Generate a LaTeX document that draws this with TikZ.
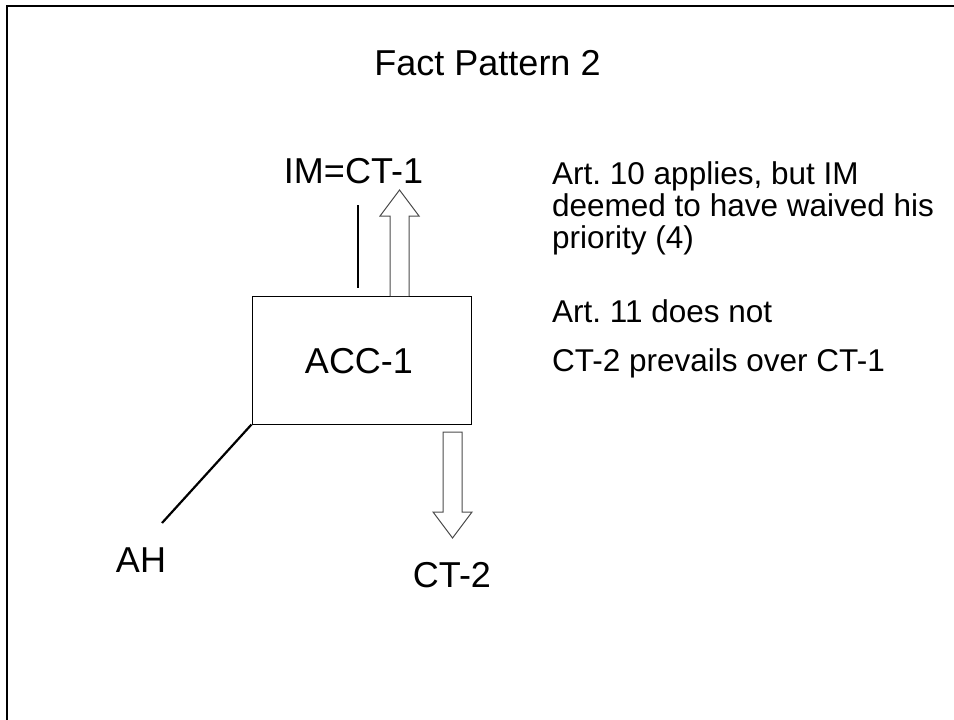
\documentclass[tikz,border=0pt]{standalone}
\usepackage{fontspec}
\setmainfont{Liberation Sans}
\frenchspacing
\usetikzlibrary{positioning}

\begin{document}
\begin{tikzpicture}[x=1pt,y=-1pt,
  big/.style={inner sep=0pt,anchor=base,font=\fontsize{36}{36}\selectfont},
  note/.style={inner sep=0pt,anchor=base west,align=left,font=\fontsize{31.5}{31.8}\selectfont},
  blockarrow/.style={draw=black!70,line width=1pt,fill=white},
  stick/.style={line width=2.2pt}]
\useasboundingbox (0,0) rectangle (954,720);
\draw[line width=2.6pt] (7,720)--(7,6)--(954,6);
\node[big] (title) at (487.5,75) {Fact Pattern 2};
\node[draw,line width=1pt,minimum width=219,minimum height=128,inner sep=0pt] (acc) at (361.5,360) {};
\node[big] (acclabel) at (359,373) {ACC-1};
\node[big] (im) at (353.5,183) {IM=CT-1};
\node[big] (ah) at (141,572) {AH};
\node[big] (ct) at (452,587) {CT-2};
\coordinate (imtop) at (358,205);
\coordinate (imbot) at (358,288);
\coordinate (ahend) at (162,523);
\draw[stick] (imtop)--(imbot);
\draw[stick] (acc.south west)--(ahend);
% block arrows
\draw[blockarrow] (390,296)--(390,216)--(380,216)--(399.5,190)--(419,216)--(409,216)--(409,296);
\draw[blockarrow] (443,432)--(443,512)--(433,512)--(452.5,538)--(472,512)--(462,512)--(462,432)--cycle;
\node[note] (art10) at (552,248) {Art. 10 applies, but IM\\deemed to have waived his\\priority (4)};
\node[note] (art11) at (552,322) {Art. 11 does not};
\node[note] (prev) at (552,371) {CT-2 prevails over CT-1};
\end{tikzpicture}
\end{document}
